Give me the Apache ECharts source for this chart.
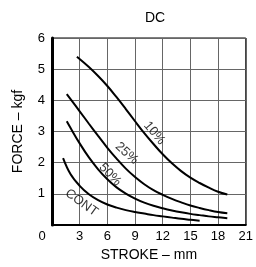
<!DOCTYPE html>
<html>
<head>
<meta charset="utf-8">
<script src="https://cdn.jsdelivr.net/npm/echarts@6/dist/echarts.min.js"></script>
<style>
  html, body { margin: 0; padding: 0; background: #fff; }
  #main { width: 256px; height: 267px; }
</style>
</head>
<body>
<div id="main"></div>
<script>
// curves: [stroke mm, force kgf]
const duty10 = [[2.7,5.4],[4,5.07],[5,4.78],[6,4.46],[7,4.1],[8,3.72],[9,3.33],[10,2.95],[11,2.6],[12,2.27],[13,1.98],[14,1.73],[15,1.52],[16,1.35],[17,1.2],[18,1.07],[19,0.98]];
const duty25 = [[1.6,4.2],[3,3.65],[4,3.25],[5,2.86],[6,2.48],[7,2.13],[8,1.81],[9,1.54],[10,1.31],[11,1.12],[12,0.97],[13,0.84],[14,0.73],[15,0.63],[16,0.55],[17,0.48],[18,0.42],[19,0.38]];
const duty50 = [[1.6,3.33],[2,3.12],[3,2.62],[4,2.17],[5,1.79],[6,1.47],[7,1.21],[8,1.01],[9,0.85],[10,0.72],[11,0.62],[12,0.54],[13,0.47],[14,0.41],[15,0.36],[16,0.32],[17,0.28],[18,0.25],[19,0.22]];
const dutyCont = [[1.2,2.15],[2,1.64],[3,1.26],[4,0.99],[5,0.8],[6,0.66],[7,0.56],[8,0.48],[9,0.42],[10,0.37],[11,0.32],[12,0.28],[13,0.24],[14,0.2],[15,0.17],[16,0.14]];

// curve labels: [x, y, text, rotate]
const curveLabels = [
  [11.1, 2.95, '10%', -50],
  [8.1, 2.3, '25%', -42],
  [6.3, 1.62, '50%', -46],
  [3.2, 0.72, 'CONT', -36]
];

const font = 'Liberation Sans';

let myChart = echarts.init(document.getElementById('main'));

const curve = (data) => ({
  type: 'line',
  data: data,
  smooth: 0.4,
  symbol: 'none',
  lineStyle: { color: '#000', width: 2 },
  silent: true
});

let option = {
  animation: false,
  title: {
    text: 'DC',
    left: 150,
    top: 6,
    textAlign: 'center',
    textStyle: { fontFamily: font, fontSize: 14, fontWeight: 'normal', color: '#000' }
  },
  grid: {
    left: 52, right: 8, top: 38, bottom: 40,
    show: true,
    borderColor: '#000',
    borderWidth: 1
  },
  xAxis: {
    type: 'value',
    min: 0, max: 21, interval: 3,
    name: 'STROKE – mm',
    nameLocation: 'middle',
    nameGap: 19,
    nameTextStyle: { fontFamily: font, fontSize: 14, color: '#000' },
    axisLine: { lineStyle: { color: '#000', width: 2 } },
    axisTick: { show: false },
    axisLabel: {
      fontFamily: font, fontSize: 13, color: '#000', margin: 5,
      formatter: (v) => v === 0 ? '{z|0}' : String(v),
      rich: { z: { fontFamily: font, fontSize: 13, color: '#000', padding: [0, 20, 0, 0] } }
    },
    splitLine: { lineStyle: { color: '#666', width: 1 } }
  },
  yAxis: {
    type: 'value',
    min: 0, max: 6, interval: 1,
    name: 'FORCE – kgf',
    nameLocation: 'middle',
    nameGap: 27,
    nameTextStyle: { fontFamily: font, fontSize: 14, color: '#000' },
    axisLine: { show: true, lineStyle: { color: '#000', width: 3 } },
    axisTick: { show: false },
    axisLabel: {
      fontFamily: font, fontSize: 13, color: '#000', margin: 7,
      formatter: (v) => v === 0 ? '' : String(v)
    },
    splitLine: { lineStyle: { color: '#666', width: 1 } }
  },
  series: [
    curve(duty10),
    curve(duty25),
    curve(duty50),
    curve(dutyCont),
    {
      type: 'scatter',
      symbolSize: 0,
      silent: true,
      data: curveLabels.map(l => ({
        value: [l[0], l[1]],
        label: {
          show: true,
          position: 'inside',
          formatter: l[2],
          rotate: l[3],
          fontFamily: font,
          fontSize: 13,
          color: '#000'
        }
      }))
    }
  ]
};

myChart.setOption(option);
</script>
</body>
</html>
